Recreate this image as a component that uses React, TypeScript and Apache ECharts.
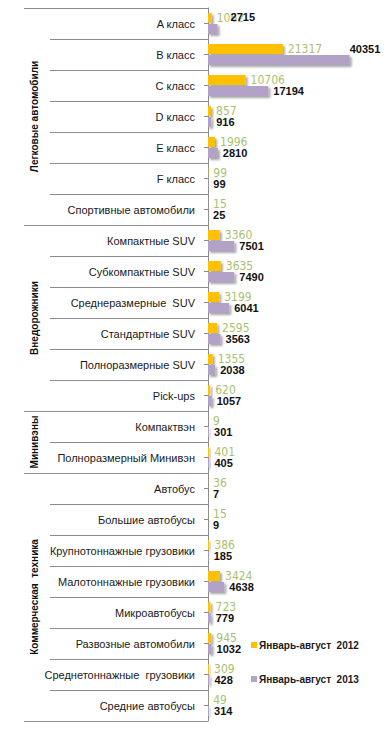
import React, { useEffect, useRef } from "react";
import * as echarts from "echarts";

const categories: string[] = [
  "A класс",
  "B класс",
  "C класс",
  "D класс",
  "E класс",
  "F класс",
  "Спортивные автомобили",
  "Компактные SUV",
  "Субкомпактные SUV",
  "Среднеразмерные  SUV",
  "Стандартные SUV",
  "Полноразмерные SUV",
  "Pick-ups",
  "Компактвэн",
  "Полноразмерный Минивэн",
  "Автобус",
  "Большие автобусы",
  "Крупнотоннажные грузовики",
  "Малотоннажные грузовики",
  "Микроавтобусы",
  "Развозные автомобили",
  "Среднетоннажные  грузовики",
  "Средние автобусы",
];

const values2012: number[] = [
  1062, 21317, 10706, 857, 1996, 99, 15, 3360, 3635, 3199, 2595, 1355, 620, 9, 401, 36, 15, 386, 3424, 723,
  945, 309, 49,
];

const values2013: number[] = [
  2715, 40351, 17194, 916, 2810, 99, 25, 7501, 7490, 6041, 3563, 2038, 1057, 301, 405, 7, 9, 185, 4638, 779,
  1032, 428, 314,
];

const groupNames: string[] = ["Легковые автомобили", "Внедорожники", "Минивэны", "Коммерческая  техника"];
const groupStart: number[] = [0, 7, 13, 15];
const groupEnd: number[] = [6, 12, 14, 22];

const seriesNames: string[] = ["Январь-август  2012", "Январь-август  2013"];

// manual label nudges (as in the source chart) for 2013 labels
const labelNudge2013: Record<number, number[]> = { 0: [8, -12], 1: [-5, -11] };

const LINE = "#8c8c8c";
const SANS = "'Liberation Sans', Arial, sans-serif";
const NARROW = "'Liberation Sans Narrow', 'Arial Narrow', 'DejaVu Sans Condensed', sans-serif";

export default function App() {
  const ref = useRef<HTMLDivElement>(null);

  useEffect(() => {
    if (!ref.current) return;
    const chart = echarts.init(ref.current, null, { renderer: "svg" });

    const shadow = {
      shadowColor: "rgba(0,0,0,0.35)",
      shadowBlur: 2,
      shadowOffsetX: 2,
      shadowOffsetY: 2,
    };

    const groupData = groupNames.map((n, i) => [0, groupStart[i], groupEnd[i], n]);

    const option: any = {
      animation: false,
      backgroundColor: "#ffffff",
      grid: { left: 208, top: 8, width: 158, bottom: 8, containLabel: false },
      legend: {
        data: seriesNames,
        orient: "vertical",
        left: 246,
        top: 635,
        itemWidth: 6,
        itemHeight: 6,
        itemGap: 24,
        icon: "rect",
        textStyle: {
          fontFamily: SANS,
          fontSize: 10,
          fontWeight: "bold",
          color: "#1a1a1a",
          padding: [0, 0, 0, -3],
        },
      },
      xAxis: {
        type: "value",
        min: 0,
        max: 45000,
        show: false,
      },
      yAxis: {
        type: "category",
        data: categories,
        inverse: true,
        axisLine: { show: true, lineStyle: { color: LINE, width: 1 } },
        axisTick: { show: true, alignWithLabel: true, length: 4, lineStyle: { color: LINE } },
        axisLabel: {
          margin: 13,
          fontFamily: SANS,
          fontSize: 11,
          color: "#1a1a1a",
        },
        splitLine: { show: false },
      },
      series: [
        {
          name: seriesNames[0],
          type: "bar",
          data: values2012,
          barWidth: 10,
          barGap: "10%",
          itemStyle: { color: "#FFC000", ...shadow },
          label: {
            show: true,
            position: "right",
            distance: 5,
            fontFamily: NARROW,
            fontSize: 12,
            color: "#a9bf72",
          },
        },
        {
          name: seriesNames[1],
          type: "bar",
          data: values2013.map((v, i) =>
            labelNudge2013[i] ? { value: v, label: { offset: labelNudge2013[i] } } : v
          ),
          barWidth: 10,
          itemStyle: { color: "#B3A2C7", ...shadow },
          z: 3,
          label: {
            show: true,
            position: "right",
            distance: 5,
            fontFamily: SANS,
            fontSize: 11,
            fontWeight: "bold",
            color: "#111111",
          },
        },
        {
          name: "groups",
          type: "custom",
          clip: false,
          silent: true,
          encode: { x: 0, y: 1 },
          data: groupData,
          z: 1,
          renderItem: (params: any, api: any) => {
            const start = api.value(1) as number;
            const end = api.value(2) as number;
            const name = groupData[params.dataIndex][3] as string;
            const cell = api.size([0, 1])[1];
            const p0 = api.coord([0, start]);
            const axisX = p0[0];
            const top = p0[1] - cell / 2;
            const bottom = api.coord([0, end])[1] + cell / 2;
            const children: any[] = [];
            const ls = { stroke: LINE, lineWidth: 1 };
            children.push({
              type: "line",
              shape: { x1: 24, y1: Math.round(top) + 0.5, x2: axisX, y2: Math.round(top) + 0.5 },
              style: ls,
            });
            for (let i = start + 1; i <= end; i++) {
              const y = Math.round(api.coord([0, i])[1] - cell / 2) + 0.5;
              children.push({ type: "line", shape: { x1: 50, y1: y, x2: axisX, y2: y }, style: ls });
            }
            if (params.dataIndex === groupData.length - 1) {
              children.push({
                type: "line",
                shape: { x1: 24, y1: Math.round(bottom) + 0.5, x2: axisX, y2: Math.round(bottom) + 0.5 },
                style: ls,
              });
            }
            children.push({
              type: "text",
              x: 34,
              y: (top + bottom) / 2,
              rotation: Math.PI / 2,
              style: {
                text: name,
                textAlign: "center",
                textVerticalAlign: "middle",
                fontFamily: SANS,
                fontSize: 10,
                fontWeight: "bold",
                fill: "#111111",
              },
            });
            return { type: "group", children };
          },
        },
      ],
    };

    chart.setOption(option);
    return () => chart.dispose();
  }, []);

  return (
    <div
      ref={ref}
      style={{ position: "fixed", left: 0, top: 0, width: 387, height: 729, background: "#fff" }}
    />
  );
}
